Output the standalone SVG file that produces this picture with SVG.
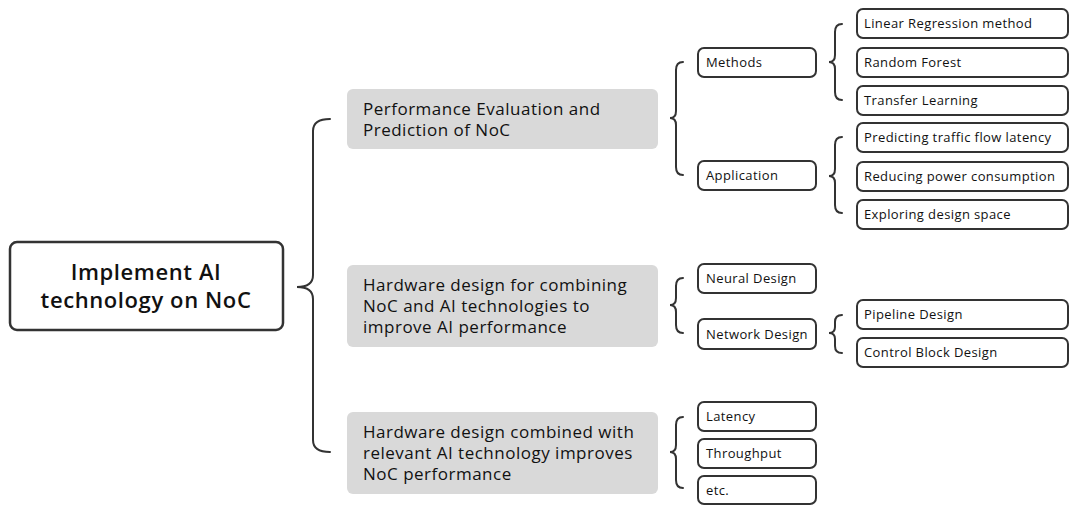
<svg xmlns="http://www.w3.org/2000/svg" width="1074" height="509" viewBox="0 0 1074 509">
<style>
.box{fill:#fff;stroke:#333;stroke-width:2}
.root{fill:#fff;stroke:#333;stroke-width:2.5}
.grey{fill:#d9d9d9;stroke:none}
.br{fill:none;stroke:#333;stroke-width:2;stroke-linecap:round}
text{font-family:"Open Sans","Liberation Sans",sans-serif;fill:#111}
.t13{font-size:13px;letter-spacing:0.4px}
.t17{font-size:17px;letter-spacing:0.5px}
.t21{font-size:22px;font-weight:600;letter-spacing:0.6px}
</style>
<rect width="1074" height="509" fill="#fff"/>
<g id="connectors">
<path class="br" d="M330,119 Q313,119 313,131 L313,275 Q313,287 297,287 Q313,287 313,299 L313,440 Q313,452 330,452"/>
<path class="br" d="M683,62 Q676,62 676,70 L676,111 Q676,118 670,118 Q676,118 676,125 L676,167 Q676,175 683,175"/>
<path class="br" d="M842,24 Q835,24 835,32 L835,55 Q835,62 829,62 Q835,62 835,69 L835,92 Q835,100 842,100"/>
<path class="br" d="M842,137 Q835,137 835,145 L835,169 Q835,176 829,176 Q835,176 835,183 L835,205 Q835,213 842,213"/>
<path class="br" d="M683,278 Q676,278 676,286 L676,298 Q676,305 670,305 Q676,305 676,312 L676,325 Q676,333 683,333"/>
<path class="br" d="M842,315 Q835,315 835,322 L835,327 Q835,333 829,333 Q835,333 835,339 L835,346 Q835,353 842,353"/>
<path class="br" d="M683,417 Q676,417 676,425 L676,445 Q676,452 670,452 Q676,452 676,459 L676,480 Q676,488 683,488"/>
</g>
<g id="root">
<rect class="root" x="10" y="242" width="273" height="88" rx="7"/>
<text class="t21" x="146" y="280" text-anchor="middle">Implement AI</text>
<text class="t21" x="146" y="308" text-anchor="middle">technology on NoC</text>
</g>
<g id="perf">
<rect class="grey" x="347" y="89" width="311" height="60" rx="6"/>
<text class="t17" x="363" y="115">Performance Evaluation and</text>
<text class="t17" x="363" y="136">Prediction of NoC</text>
</g>
<g id="hwai">
<rect class="grey" x="347" y="265" width="311" height="82" rx="6"/>
<text class="t17" x="363" y="291">Hardware design for combining</text>
<text class="t17" x="363" y="312">NoC and AI technologies to</text>
<text class="t17" x="363" y="333">improve AI performance</text>
</g>
<g id="hwnoc">
<rect class="grey" x="347" y="412" width="311" height="82" rx="6"/>
<text class="t17" x="363" y="438">Hardware design combined with</text>
<text class="t17" x="363" y="459">relevant AI technology improves</text>
<text class="t17" x="363" y="480">NoC performance</text>
</g>
<g id="methods"><rect class="box" x="698" y="48" width="118" height="29" rx="6"/><text class="t13" x="706" y="67">Methods</text></g>
<g id="application"><rect class="box" x="698" y="161" width="118" height="29" rx="6"/><text class="t13" x="706" y="180">Application</text></g>
<g id="neural"><rect class="box" x="698" y="264" width="118" height="29" rx="6"/><text class="t13" x="706" y="283">Neural Design</text></g>
<g id="network"><rect class="box" x="698" y="319" width="118" height="30" rx="6"/><text class="t13" x="706" y="339">Network Design</text></g>
<g id="latency"><rect class="box" x="698" y="402" width="118" height="29" rx="6"/><text class="t13" x="706" y="421">Latency</text></g>
<g id="throughput"><rect class="box" x="698" y="439" width="118" height="29" rx="6"/><text class="t13" x="706" y="458">Throughput</text></g>
<g id="etc"><rect class="box" x="698" y="476" width="118" height="28" rx="6"/><text class="t13" x="706" y="495">etc.</text></g>
<g id="linear"><rect class="box" x="857" y="9" width="211" height="29" rx="6"/><text class="t13" x="864" y="28">Linear Regression method</text></g>
<g id="random"><rect class="box" x="857" y="48" width="211" height="29" rx="6"/><text class="t13" x="864" y="67">Random Forest</text></g>
<g id="transfer"><rect class="box" x="857" y="86" width="211" height="29" rx="6"/><text class="t13" x="864" y="105">Transfer Learning</text></g>
<g id="predicting"><rect class="box" x="857" y="123" width="211" height="29" rx="6"/><text class="t13" x="864" y="142">Predicting traffic flow latency</text></g>
<g id="reducing"><rect class="box" x="857" y="162" width="211" height="29" rx="6"/><text class="t13" x="864" y="181">Reducing power consumption</text></g>
<g id="exploring"><rect class="box" x="857" y="200" width="211" height="29" rx="6"/><text class="t13" x="864" y="219">Exploring design space</text></g>
<g id="pipeline"><rect class="box" x="857" y="300" width="211" height="29" rx="6"/><text class="t13" x="864" y="319">Pipeline Design</text></g>
<g id="control"><rect class="box" x="857" y="338" width="211" height="29" rx="6"/><text class="t13" x="864" y="357">Control Block Design</text></g>
</svg>
